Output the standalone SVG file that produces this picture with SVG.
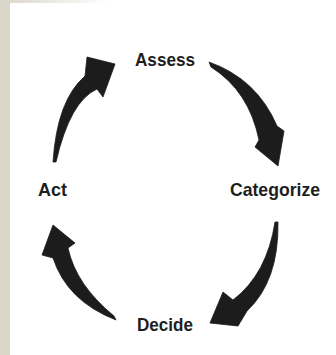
<svg xmlns="http://www.w3.org/2000/svg" width="336" height="355" viewBox="0 0 336 355">
<defs>
<linearGradient id="topband" x1="0" y1="0" x2="1" y2="0">
<stop offset="0" stop-color="#d9d5c9"/>
<stop offset="1" stop-color="#ffffff"/>
</linearGradient>
<style>
.lbl{font-family:"Liberation Sans",Arial,sans-serif;font-weight:bold;font-size:19px;fill:#1e1e1e;}
.arr{fill:#1c1c1c;stroke:#1c1c1c;stroke-width:0.8;stroke-linejoin:round;}
</style>
</defs>
<rect x="0" y="0" width="336" height="355" fill="#ffffff"/>
<rect x="0" y="0" width="110" height="3" fill="url(#topband)"/>
<rect x="0" y="0" width="10" height="355" fill="#d9d5c9"/>

<g id="connectors">
<path id="act-assess" class="arr" d="M53,162 Q57,100 85,76 L87,57 L115,64 L103,97 L97,89 Q70,101 56,162 Z"/>
<path id="assess-categorize" class="arr" d="M209,62 Q257,79 277,126 L284,131 L278,166 L255,147 L259,140 Q249,91 211,67 Z"/>
<path id="categorize-decide" class="arr" d="M278,222 Q279,281 247,311 L238,326 L210,323 L223,292 L233,300 Q267,274 275,222 Z"/>
<path id="decide-act" class="arr" d="M116,320 Q67,301 53,258 L42,255 L53,225 L75,243 L68,248 Q76,285 114,316 Z"/>
</g>

<g id="assess"><text class="lbl" x="135" y="66" textLength="60" lengthAdjust="spacingAndGlyphs">Assess</text></g>
<g id="categorize"><text class="lbl" x="230" y="196" textLength="90" lengthAdjust="spacingAndGlyphs">Categorize</text></g>
<g id="decide"><text class="lbl" x="137" y="331" textLength="56" lengthAdjust="spacingAndGlyphs">Decide</text></g>
<g id="act"><text class="lbl" x="38" y="196" textLength="29" lengthAdjust="spacingAndGlyphs">Act</text></g>
</svg>
